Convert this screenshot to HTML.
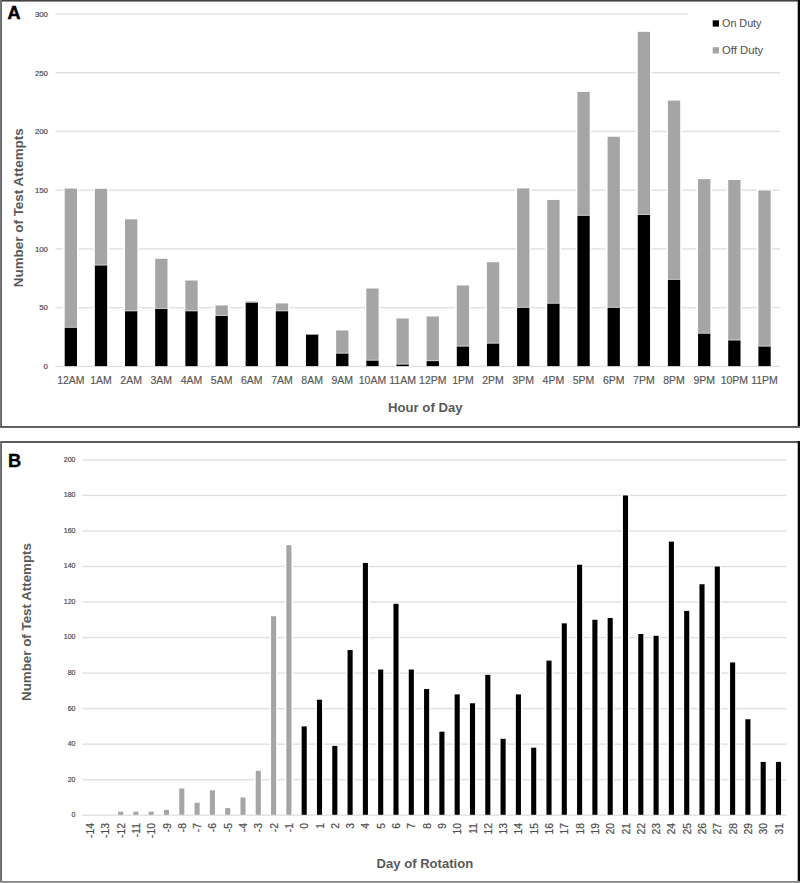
<!DOCTYPE html>
<html><head><meta charset="utf-8"><style>
html,body{margin:0;padding:0;background:#fff;overflow:hidden;}
svg{display:block;}
text{font-family:"Liberation Sans", sans-serif;}
</style></head><body>
<svg width="800" height="883" viewBox="0 0 800 883">
<rect x="0" y="0" width="800" height="883" fill="#fff"/>
<rect x="55.40" y="365.70" width="724.60" height="1.4" fill="#e0e0e0"/>
<text x="47.90" y="369.20" font-size="7.8" text-anchor="end" font-weight="normal" fill="#4d4d4d" stroke="#4d4d4d" stroke-width="0.2">0</text>
<rect x="55.40" y="306.97" width="724.60" height="1.4" fill="#e0e0e0"/>
<text x="47.90" y="310.47" font-size="7.8" text-anchor="end" font-weight="normal" fill="#4d4d4d" stroke="#4d4d4d" stroke-width="0.2">50</text>
<rect x="55.40" y="248.23" width="724.60" height="1.4" fill="#e0e0e0"/>
<text x="47.90" y="251.73" font-size="7.8" text-anchor="end" font-weight="normal" fill="#4d4d4d" stroke="#4d4d4d" stroke-width="0.2">100</text>
<rect x="55.40" y="189.50" width="724.60" height="1.4" fill="#e0e0e0"/>
<text x="47.90" y="193.00" font-size="7.8" text-anchor="end" font-weight="normal" fill="#4d4d4d" stroke="#4d4d4d" stroke-width="0.2">150</text>
<rect x="55.40" y="130.77" width="724.60" height="1.4" fill="#e0e0e0"/>
<text x="47.90" y="134.27" font-size="7.8" text-anchor="end" font-weight="normal" fill="#4d4d4d" stroke="#4d4d4d" stroke-width="0.2">200</text>
<rect x="55.40" y="72.03" width="724.60" height="1.4" fill="#e0e0e0"/>
<text x="47.90" y="75.53" font-size="7.8" text-anchor="end" font-weight="normal" fill="#4d4d4d" stroke="#4d4d4d" stroke-width="0.2">250</text>
<rect x="55.40" y="13.30" width="724.60" height="1.4" fill="#e0e0e0"/>
<text x="47.90" y="16.80" font-size="7.8" text-anchor="end" font-weight="normal" fill="#4d4d4d" stroke="#4d4d4d" stroke-width="0.2">300</text>
<rect x="688" y="2" width="109" height="62" fill="#fff"/>
<rect x="63.20" y="187.36" width="15.30" height="178.34" fill="#fff"/>
<rect x="64.70" y="188.56" width="12.30" height="139.08" fill="#a5a5a5"/>
<rect x="64.70" y="327.64" width="12.30" height="38.46" fill="#000"/>
<rect x="64.70" y="326.84" width="12.30" height="0.8" fill="#fff" fill-opacity="0.55"/>
<text x="70.85" y="383.80" font-size="10.5" text-anchor="middle" font-weight="normal" fill="#555" stroke="#555" stroke-width="0.15">12AM</text>
<rect x="93.36" y="187.59" width="15.30" height="178.11" fill="#fff"/>
<rect x="94.86" y="188.79" width="12.30" height="76.59" fill="#a5a5a5"/>
<rect x="94.86" y="265.38" width="12.30" height="100.72" fill="#000"/>
<rect x="94.86" y="264.58" width="12.30" height="0.8" fill="#fff" fill-opacity="0.55"/>
<text x="101.01" y="383.80" font-size="10.5" text-anchor="middle" font-weight="normal" fill="#555" stroke="#555" stroke-width="0.15">1AM</text>
<rect x="123.52" y="218.13" width="15.30" height="147.57" fill="#fff"/>
<rect x="125.02" y="219.33" width="12.30" height="91.86" fill="#a5a5a5"/>
<rect x="125.02" y="311.19" width="12.30" height="54.91" fill="#000"/>
<rect x="125.02" y="310.39" width="12.30" height="0.8" fill="#fff" fill-opacity="0.55"/>
<text x="131.17" y="383.80" font-size="10.5" text-anchor="middle" font-weight="normal" fill="#555" stroke="#555" stroke-width="0.15">2AM</text>
<rect x="153.68" y="257.60" width="15.30" height="108.10" fill="#fff"/>
<rect x="155.18" y="258.80" width="12.30" height="50.04" fill="#a5a5a5"/>
<rect x="155.18" y="308.84" width="12.30" height="57.26" fill="#000"/>
<rect x="155.18" y="308.04" width="12.30" height="0.8" fill="#fff" fill-opacity="0.55"/>
<text x="161.33" y="383.80" font-size="10.5" text-anchor="middle" font-weight="normal" fill="#555" stroke="#555" stroke-width="0.15">3AM</text>
<rect x="183.84" y="279.33" width="15.30" height="86.37" fill="#fff"/>
<rect x="185.34" y="280.53" width="12.30" height="30.66" fill="#a5a5a5"/>
<rect x="185.34" y="311.19" width="12.30" height="54.91" fill="#000"/>
<rect x="185.34" y="310.39" width="12.30" height="0.8" fill="#fff" fill-opacity="0.55"/>
<text x="191.49" y="383.80" font-size="10.5" text-anchor="middle" font-weight="normal" fill="#555" stroke="#555" stroke-width="0.15">4AM</text>
<rect x="214.00" y="304.23" width="15.30" height="61.47" fill="#fff"/>
<rect x="215.50" y="305.43" width="12.30" height="10.45" fill="#a5a5a5"/>
<rect x="215.50" y="315.89" width="12.30" height="50.21" fill="#000"/>
<rect x="215.50" y="315.09" width="12.30" height="0.8" fill="#fff" fill-opacity="0.55"/>
<text x="221.65" y="383.80" font-size="10.5" text-anchor="middle" font-weight="normal" fill="#555" stroke="#555" stroke-width="0.15">5AM</text>
<rect x="244.16" y="300.24" width="15.30" height="65.46" fill="#fff"/>
<rect x="245.66" y="301.44" width="12.30" height="1.53" fill="#a5a5a5"/>
<rect x="245.66" y="302.97" width="12.30" height="63.13" fill="#000"/>
<text x="251.81" y="383.80" font-size="10.5" text-anchor="middle" font-weight="normal" fill="#555" stroke="#555" stroke-width="0.15">6AM</text>
<rect x="274.32" y="302.24" width="15.30" height="63.46" fill="#fff"/>
<rect x="275.82" y="303.44" width="12.30" height="7.75" fill="#a5a5a5"/>
<rect x="275.82" y="311.19" width="12.30" height="54.91" fill="#000"/>
<rect x="275.82" y="310.39" width="12.30" height="0.8" fill="#fff" fill-opacity="0.55"/>
<text x="281.97" y="383.80" font-size="10.5" text-anchor="middle" font-weight="normal" fill="#555" stroke="#555" stroke-width="0.15">7AM</text>
<rect x="304.48" y="333.25" width="15.30" height="32.45" fill="#fff"/>
<rect x="305.98" y="334.45" width="12.30" height="0.23" fill="#a5a5a5"/>
<rect x="305.98" y="334.68" width="12.30" height="31.42" fill="#000"/>
<text x="312.13" y="383.80" font-size="10.5" text-anchor="middle" font-weight="normal" fill="#555" stroke="#555" stroke-width="0.15">8AM</text>
<rect x="334.64" y="329.26" width="15.30" height="36.44" fill="#fff"/>
<rect x="336.14" y="330.46" width="12.30" height="23.02" fill="#a5a5a5"/>
<rect x="336.14" y="353.48" width="12.30" height="12.62" fill="#000"/>
<rect x="336.14" y="352.68" width="12.30" height="0.8" fill="#fff" fill-opacity="0.55"/>
<text x="342.29" y="383.80" font-size="10.5" text-anchor="middle" font-weight="normal" fill="#555" stroke="#555" stroke-width="0.15">9AM</text>
<rect x="364.80" y="287.32" width="15.30" height="78.38" fill="#fff"/>
<rect x="366.30" y="288.52" width="12.30" height="72.01" fill="#a5a5a5"/>
<rect x="366.30" y="360.53" width="12.30" height="5.57" fill="#000"/>
<rect x="366.30" y="359.73" width="12.30" height="0.8" fill="#fff" fill-opacity="0.55"/>
<text x="372.45" y="383.80" font-size="10.5" text-anchor="middle" font-weight="normal" fill="#555" stroke="#555" stroke-width="0.15">10AM</text>
<rect x="394.96" y="317.27" width="15.30" height="48.43" fill="#fff"/>
<rect x="396.46" y="318.47" width="12.30" height="45.93" fill="#a5a5a5"/>
<rect x="396.46" y="364.40" width="12.30" height="1.70" fill="#000"/>
<rect x="396.46" y="363.60" width="12.30" height="0.8" fill="#fff" fill-opacity="0.55"/>
<text x="402.61" y="383.80" font-size="10.5" text-anchor="middle" font-weight="normal" fill="#555" stroke="#555" stroke-width="0.15">11AM</text>
<rect x="425.12" y="315.28" width="15.30" height="50.42" fill="#fff"/>
<rect x="426.62" y="316.48" width="12.30" height="44.64" fill="#a5a5a5"/>
<rect x="426.62" y="361.11" width="12.30" height="4.99" fill="#000"/>
<rect x="426.62" y="360.31" width="12.30" height="0.8" fill="#fff" fill-opacity="0.55"/>
<text x="432.77" y="383.80" font-size="10.5" text-anchor="middle" font-weight="normal" fill="#555" stroke="#555" stroke-width="0.15">12PM</text>
<rect x="455.28" y="284.27" width="15.30" height="81.43" fill="#fff"/>
<rect x="456.78" y="285.47" width="12.30" height="60.97" fill="#a5a5a5"/>
<rect x="456.78" y="346.43" width="12.30" height="19.67" fill="#000"/>
<rect x="456.78" y="345.63" width="12.30" height="0.8" fill="#fff" fill-opacity="0.55"/>
<text x="462.93" y="383.80" font-size="10.5" text-anchor="middle" font-weight="normal" fill="#555" stroke="#555" stroke-width="0.15">1PM</text>
<rect x="485.44" y="261.01" width="15.30" height="104.69" fill="#fff"/>
<rect x="486.94" y="262.21" width="12.30" height="81.29" fill="#a5a5a5"/>
<rect x="486.94" y="343.49" width="12.30" height="22.61" fill="#000"/>
<rect x="486.94" y="342.69" width="12.30" height="0.8" fill="#fff" fill-opacity="0.55"/>
<text x="493.09" y="383.80" font-size="10.5" text-anchor="middle" font-weight="normal" fill="#555" stroke="#555" stroke-width="0.15">2PM</text>
<rect x="515.60" y="187.24" width="15.30" height="178.46" fill="#fff"/>
<rect x="517.10" y="188.44" width="12.30" height="119.23" fill="#a5a5a5"/>
<rect x="517.10" y="307.67" width="12.30" height="58.43" fill="#000"/>
<rect x="517.10" y="306.87" width="12.30" height="0.8" fill="#fff" fill-opacity="0.55"/>
<text x="523.25" y="383.80" font-size="10.5" text-anchor="middle" font-weight="normal" fill="#555" stroke="#555" stroke-width="0.15">3PM</text>
<rect x="545.76" y="198.75" width="15.30" height="166.95" fill="#fff"/>
<rect x="547.26" y="199.95" width="12.30" height="103.61" fill="#a5a5a5"/>
<rect x="547.26" y="303.56" width="12.30" height="62.54" fill="#000"/>
<rect x="547.26" y="302.76" width="12.30" height="0.8" fill="#fff" fill-opacity="0.55"/>
<text x="553.41" y="383.80" font-size="10.5" text-anchor="middle" font-weight="normal" fill="#555" stroke="#555" stroke-width="0.15">4PM</text>
<rect x="575.92" y="90.68" width="15.30" height="275.02" fill="#fff"/>
<rect x="577.42" y="91.88" width="12.30" height="123.81" fill="#a5a5a5"/>
<rect x="577.42" y="215.69" width="12.30" height="150.41" fill="#000"/>
<rect x="577.42" y="214.89" width="12.30" height="0.8" fill="#fff" fill-opacity="0.55"/>
<text x="583.57" y="383.80" font-size="10.5" text-anchor="middle" font-weight="normal" fill="#555" stroke="#555" stroke-width="0.15">5PM</text>
<rect x="606.08" y="135.55" width="15.30" height="230.15" fill="#fff"/>
<rect x="607.58" y="136.75" width="12.30" height="170.91" fill="#a5a5a5"/>
<rect x="607.58" y="307.67" width="12.30" height="58.43" fill="#000"/>
<rect x="607.58" y="306.87" width="12.30" height="0.8" fill="#fff" fill-opacity="0.55"/>
<text x="613.73" y="383.80" font-size="10.5" text-anchor="middle" font-weight="normal" fill="#555" stroke="#555" stroke-width="0.15">6PM</text>
<rect x="636.24" y="30.65" width="15.30" height="335.05" fill="#fff"/>
<rect x="637.74" y="31.85" width="12.30" height="183.01" fill="#a5a5a5"/>
<rect x="637.74" y="214.87" width="12.30" height="151.23" fill="#000"/>
<rect x="637.74" y="214.07" width="12.30" height="0.8" fill="#fff" fill-opacity="0.55"/>
<text x="643.89" y="383.80" font-size="10.5" text-anchor="middle" font-weight="normal" fill="#555" stroke="#555" stroke-width="0.15">7PM</text>
<rect x="666.40" y="99.37" width="15.30" height="266.33" fill="#fff"/>
<rect x="667.90" y="100.57" width="12.30" height="179.14" fill="#a5a5a5"/>
<rect x="667.90" y="279.71" width="12.30" height="86.39" fill="#000"/>
<rect x="667.90" y="278.91" width="12.30" height="0.8" fill="#fff" fill-opacity="0.55"/>
<text x="674.05" y="383.80" font-size="10.5" text-anchor="middle" font-weight="normal" fill="#555" stroke="#555" stroke-width="0.15">8PM</text>
<rect x="696.56" y="177.96" width="15.30" height="187.74" fill="#fff"/>
<rect x="698.06" y="179.16" width="12.30" height="154.35" fill="#a5a5a5"/>
<rect x="698.06" y="333.51" width="12.30" height="32.59" fill="#000"/>
<rect x="698.06" y="332.71" width="12.30" height="0.8" fill="#fff" fill-opacity="0.55"/>
<text x="704.21" y="383.80" font-size="10.5" text-anchor="middle" font-weight="normal" fill="#555" stroke="#555" stroke-width="0.15">9PM</text>
<rect x="726.72" y="178.78" width="15.30" height="186.92" fill="#fff"/>
<rect x="728.22" y="179.98" width="12.30" height="160.34" fill="#a5a5a5"/>
<rect x="728.22" y="340.32" width="12.30" height="25.78" fill="#000"/>
<rect x="728.22" y="339.52" width="12.30" height="0.8" fill="#fff" fill-opacity="0.55"/>
<text x="734.37" y="383.80" font-size="10.5" text-anchor="middle" font-weight="normal" fill="#555" stroke="#555" stroke-width="0.15">10PM</text>
<rect x="756.88" y="189.23" width="15.30" height="176.47" fill="#fff"/>
<rect x="758.38" y="190.43" width="12.30" height="156.00" fill="#a5a5a5"/>
<rect x="758.38" y="346.43" width="12.30" height="19.67" fill="#000"/>
<rect x="758.38" y="345.63" width="12.30" height="0.8" fill="#fff" fill-opacity="0.55"/>
<text x="764.53" y="383.80" font-size="10.5" text-anchor="middle" font-weight="normal" fill="#555" stroke="#555" stroke-width="0.15">11PM</text>
<rect x="712.7" y="20.3" width="6.3" height="6.3" fill="#000"/>
<rect x="712.7" y="47.2" width="6.3" height="6.3" fill="#a5a5a5"/>
<text x="722.00" y="26.60" font-size="10.5" text-anchor="start" font-weight="normal" fill="#4d4d4d" textLength="39.50" lengthAdjust="spacingAndGlyphs">On Duty</text>
<text x="722.00" y="53.50" font-size="10.5" text-anchor="start" font-weight="normal" fill="#4d4d4d" textLength="41.20" lengthAdjust="spacingAndGlyphs">Off Duty</text>
<text x="22.70" y="207.75" font-size="13.6" text-anchor="middle" font-weight="bold" fill="#595959" transform="rotate(-90 22.70 207.75)" textLength="159.00" lengthAdjust="spacingAndGlyphs">Number of Test Attempts</text>
<text x="425.30" y="411.90" font-size="12.5" text-anchor="middle" font-weight="bold" fill="#595959" textLength="74.40" lengthAdjust="spacingAndGlyphs">Hour of Day</text>
<text x="7.40" y="19.30" font-size="19.0" text-anchor="start" font-weight="bold" fill="#000" transform="translate(7.40 0) scale(0.95 1) translate(-7.40 0)" stroke="#000" stroke-width="0.5">A</text>
<rect x="82.20" y="814.50" width="704.20" height="1.4" fill="#e0e0e0"/>
<text x="75.50" y="817.10" font-size="7.0" text-anchor="end" font-weight="normal" fill="#4d4d4d" stroke="#4d4d4d" stroke-width="0.2">0</text>
<rect x="82.20" y="778.97" width="704.20" height="1.4" fill="#e0e0e0"/>
<text x="75.50" y="781.57" font-size="7.0" text-anchor="end" font-weight="normal" fill="#4d4d4d" stroke="#4d4d4d" stroke-width="0.2">20</text>
<rect x="82.20" y="743.44" width="704.20" height="1.4" fill="#e0e0e0"/>
<text x="75.50" y="746.04" font-size="7.0" text-anchor="end" font-weight="normal" fill="#4d4d4d" stroke="#4d4d4d" stroke-width="0.2">40</text>
<rect x="82.20" y="707.91" width="704.20" height="1.4" fill="#e0e0e0"/>
<text x="75.50" y="710.51" font-size="7.0" text-anchor="end" font-weight="normal" fill="#4d4d4d" stroke="#4d4d4d" stroke-width="0.2">60</text>
<rect x="82.20" y="672.38" width="704.20" height="1.4" fill="#e0e0e0"/>
<text x="75.50" y="674.98" font-size="7.0" text-anchor="end" font-weight="normal" fill="#4d4d4d" stroke="#4d4d4d" stroke-width="0.2">80</text>
<rect x="82.20" y="636.85" width="704.20" height="1.4" fill="#e0e0e0"/>
<text x="75.50" y="639.45" font-size="7.0" text-anchor="end" font-weight="normal" fill="#4d4d4d" stroke="#4d4d4d" stroke-width="0.2">100</text>
<rect x="82.20" y="601.32" width="704.20" height="1.4" fill="#e0e0e0"/>
<text x="75.50" y="603.92" font-size="7.0" text-anchor="end" font-weight="normal" fill="#4d4d4d" stroke="#4d4d4d" stroke-width="0.2">120</text>
<rect x="82.20" y="565.79" width="704.20" height="1.4" fill="#e0e0e0"/>
<text x="75.50" y="568.39" font-size="7.0" text-anchor="end" font-weight="normal" fill="#4d4d4d" stroke="#4d4d4d" stroke-width="0.2">140</text>
<rect x="82.20" y="530.26" width="704.20" height="1.4" fill="#e0e0e0"/>
<text x="75.50" y="532.86" font-size="7.0" text-anchor="end" font-weight="normal" fill="#4d4d4d" stroke="#4d4d4d" stroke-width="0.2">160</text>
<rect x="82.20" y="494.73" width="704.20" height="1.4" fill="#e0e0e0"/>
<text x="75.50" y="497.33" font-size="7.0" text-anchor="end" font-weight="normal" fill="#4d4d4d" stroke="#4d4d4d" stroke-width="0.2">180</text>
<rect x="82.20" y="459.20" width="704.20" height="1.4" fill="#e0e0e0"/>
<text x="75.50" y="461.80" font-size="7.0" text-anchor="end" font-weight="normal" fill="#4d4d4d" stroke="#4d4d4d" stroke-width="0.2">200</text>
<text x="94.00" y="823.00" font-size="10.3" text-anchor="end" font-weight="normal" fill="#4d4d4d" transform="rotate(-90 94.00 823.00)" stroke="#4d4d4d" stroke-width="0.2">-14</text>
<text x="109.30" y="823.00" font-size="10.3" text-anchor="end" font-weight="normal" fill="#4d4d4d" transform="rotate(-90 109.30 823.00)" stroke="#4d4d4d" stroke-width="0.2">-13</text>
<rect x="116.75" y="810.65" width="7.70" height="3.95" fill="#fff"/>
<rect x="118.05" y="811.65" width="5.10" height="3.15" fill="#a5a5a5"/>
<text x="124.60" y="823.00" font-size="10.3" text-anchor="end" font-weight="normal" fill="#4d4d4d" transform="rotate(-90 124.60 823.00)" stroke="#4d4d4d" stroke-width="0.2">-12</text>
<rect x="132.05" y="810.65" width="7.70" height="3.95" fill="#fff"/>
<rect x="133.35" y="811.65" width="5.10" height="3.15" fill="#a5a5a5"/>
<text x="139.90" y="823.00" font-size="10.3" text-anchor="end" font-weight="normal" fill="#4d4d4d" transform="rotate(-90 139.90 823.00)" stroke="#4d4d4d" stroke-width="0.2">-11</text>
<rect x="147.35" y="810.65" width="7.70" height="3.95" fill="#fff"/>
<rect x="148.65" y="811.65" width="5.10" height="3.15" fill="#a5a5a5"/>
<text x="155.20" y="823.00" font-size="10.3" text-anchor="end" font-weight="normal" fill="#4d4d4d" transform="rotate(-90 155.20 823.00)" stroke="#4d4d4d" stroke-width="0.2">-10</text>
<rect x="162.65" y="808.87" width="7.70" height="5.73" fill="#fff"/>
<rect x="163.95" y="809.87" width="5.10" height="4.93" fill="#a5a5a5"/>
<text x="170.50" y="823.00" font-size="10.3" text-anchor="end" font-weight="normal" fill="#4d4d4d" transform="rotate(-90 170.50 823.00)" stroke="#4d4d4d" stroke-width="0.2">-9</text>
<rect x="177.95" y="787.55" width="7.70" height="27.05" fill="#fff"/>
<rect x="179.25" y="788.55" width="5.10" height="26.25" fill="#a5a5a5"/>
<text x="185.80" y="823.00" font-size="10.3" text-anchor="end" font-weight="normal" fill="#4d4d4d" transform="rotate(-90 185.80 823.00)" stroke="#4d4d4d" stroke-width="0.2">-8</text>
<rect x="193.25" y="801.76" width="7.70" height="12.84" fill="#fff"/>
<rect x="194.55" y="802.76" width="5.10" height="12.04" fill="#a5a5a5"/>
<text x="201.10" y="823.00" font-size="10.3" text-anchor="end" font-weight="normal" fill="#4d4d4d" transform="rotate(-90 201.10 823.00)" stroke="#4d4d4d" stroke-width="0.2">-7</text>
<rect x="208.55" y="789.33" width="7.70" height="25.27" fill="#fff"/>
<rect x="209.85" y="790.33" width="5.10" height="24.47" fill="#a5a5a5"/>
<text x="216.40" y="823.00" font-size="10.3" text-anchor="end" font-weight="normal" fill="#4d4d4d" transform="rotate(-90 216.40 823.00)" stroke="#4d4d4d" stroke-width="0.2">-6</text>
<rect x="223.85" y="807.09" width="7.70" height="7.51" fill="#fff"/>
<rect x="225.15" y="808.09" width="5.10" height="6.71" fill="#a5a5a5"/>
<text x="231.70" y="823.00" font-size="10.3" text-anchor="end" font-weight="normal" fill="#4d4d4d" transform="rotate(-90 231.70 823.00)" stroke="#4d4d4d" stroke-width="0.2">-5</text>
<rect x="239.15" y="796.44" width="7.70" height="18.16" fill="#fff"/>
<rect x="240.45" y="797.44" width="5.10" height="17.37" fill="#a5a5a5"/>
<text x="247.00" y="823.00" font-size="10.3" text-anchor="end" font-weight="normal" fill="#4d4d4d" transform="rotate(-90 247.00 823.00)" stroke="#4d4d4d" stroke-width="0.2">-4</text>
<rect x="254.45" y="769.79" width="7.70" height="44.81" fill="#fff"/>
<rect x="255.75" y="770.79" width="5.10" height="44.01" fill="#a5a5a5"/>
<text x="262.30" y="823.00" font-size="10.3" text-anchor="end" font-weight="normal" fill="#4d4d4d" transform="rotate(-90 262.30 823.00)" stroke="#4d4d4d" stroke-width="0.2">-3</text>
<rect x="269.75" y="615.23" width="7.70" height="199.37" fill="#fff"/>
<rect x="271.05" y="616.23" width="5.10" height="198.57" fill="#a5a5a5"/>
<text x="277.60" y="823.00" font-size="10.3" text-anchor="end" font-weight="normal" fill="#4d4d4d" transform="rotate(-90 277.60 823.00)" stroke="#4d4d4d" stroke-width="0.2">-2</text>
<rect x="285.05" y="544.17" width="7.70" height="270.43" fill="#fff"/>
<rect x="286.35" y="545.17" width="5.10" height="269.63" fill="#a5a5a5"/>
<text x="292.90" y="823.00" font-size="10.3" text-anchor="end" font-weight="normal" fill="#4d4d4d" transform="rotate(-90 292.90 823.00)" stroke="#4d4d4d" stroke-width="0.2">-1</text>
<rect x="300.35" y="725.38" width="7.70" height="89.23" fill="#fff"/>
<rect x="301.65" y="726.38" width="5.10" height="88.43" fill="#000"/>
<text x="308.20" y="823.00" font-size="10.3" text-anchor="end" font-weight="normal" fill="#4d4d4d" transform="rotate(-90 308.20 823.00)" stroke="#4d4d4d" stroke-width="0.2">0</text>
<rect x="315.65" y="698.73" width="7.70" height="115.87" fill="#fff"/>
<rect x="316.95" y="699.73" width="5.10" height="115.07" fill="#000"/>
<text x="323.50" y="823.00" font-size="10.3" text-anchor="end" font-weight="normal" fill="#4d4d4d" transform="rotate(-90 323.50 823.00)" stroke="#4d4d4d" stroke-width="0.2">1</text>
<rect x="330.95" y="744.92" width="7.70" height="69.68" fill="#fff"/>
<rect x="332.25" y="745.92" width="5.10" height="68.88" fill="#000"/>
<text x="338.80" y="823.00" font-size="10.3" text-anchor="end" font-weight="normal" fill="#4d4d4d" transform="rotate(-90 338.80 823.00)" stroke="#4d4d4d" stroke-width="0.2">2</text>
<rect x="346.25" y="648.99" width="7.70" height="165.61" fill="#fff"/>
<rect x="347.55" y="649.99" width="5.10" height="164.81" fill="#000"/>
<text x="354.10" y="823.00" font-size="10.3" text-anchor="end" font-weight="normal" fill="#4d4d4d" transform="rotate(-90 354.10 823.00)" stroke="#4d4d4d" stroke-width="0.2">3</text>
<rect x="361.55" y="561.94" width="7.70" height="252.66" fill="#fff"/>
<rect x="362.85" y="562.94" width="5.10" height="251.86" fill="#000"/>
<text x="369.40" y="823.00" font-size="10.3" text-anchor="end" font-weight="normal" fill="#4d4d4d" transform="rotate(-90 369.40 823.00)" stroke="#4d4d4d" stroke-width="0.2">4</text>
<rect x="376.85" y="668.53" width="7.70" height="146.07" fill="#fff"/>
<rect x="378.15" y="669.53" width="5.10" height="145.27" fill="#000"/>
<text x="384.70" y="823.00" font-size="10.3" text-anchor="end" font-weight="normal" fill="#4d4d4d" transform="rotate(-90 384.70 823.00)" stroke="#4d4d4d" stroke-width="0.2">5</text>
<rect x="392.15" y="602.80" width="7.70" height="211.80" fill="#fff"/>
<rect x="393.45" y="603.80" width="5.10" height="211.00" fill="#000"/>
<text x="400.00" y="823.00" font-size="10.3" text-anchor="end" font-weight="normal" fill="#4d4d4d" transform="rotate(-90 400.00 823.00)" stroke="#4d4d4d" stroke-width="0.2">6</text>
<rect x="407.45" y="668.53" width="7.70" height="146.07" fill="#fff"/>
<rect x="408.75" y="669.53" width="5.10" height="145.27" fill="#000"/>
<text x="415.30" y="823.00" font-size="10.3" text-anchor="end" font-weight="normal" fill="#4d4d4d" transform="rotate(-90 415.30 823.00)" stroke="#4d4d4d" stroke-width="0.2">7</text>
<rect x="422.75" y="688.07" width="7.70" height="126.53" fill="#fff"/>
<rect x="424.05" y="689.07" width="5.10" height="125.73" fill="#000"/>
<text x="430.60" y="823.00" font-size="10.3" text-anchor="end" font-weight="normal" fill="#4d4d4d" transform="rotate(-90 430.60 823.00)" stroke="#4d4d4d" stroke-width="0.2">8</text>
<rect x="438.05" y="730.70" width="7.70" height="83.90" fill="#fff"/>
<rect x="439.35" y="731.70" width="5.10" height="83.10" fill="#000"/>
<text x="445.90" y="823.00" font-size="10.3" text-anchor="end" font-weight="normal" fill="#4d4d4d" transform="rotate(-90 445.90 823.00)" stroke="#4d4d4d" stroke-width="0.2">9</text>
<rect x="453.35" y="693.40" width="7.70" height="121.20" fill="#fff"/>
<rect x="454.65" y="694.40" width="5.10" height="120.40" fill="#000"/>
<text x="461.20" y="823.00" font-size="10.3" text-anchor="end" font-weight="normal" fill="#4d4d4d" transform="rotate(-90 461.20 823.00)" stroke="#4d4d4d" stroke-width="0.2">10</text>
<rect x="468.65" y="702.28" width="7.70" height="112.32" fill="#fff"/>
<rect x="469.95" y="703.28" width="5.10" height="111.52" fill="#000"/>
<text x="476.50" y="823.00" font-size="10.3" text-anchor="end" font-weight="normal" fill="#4d4d4d" transform="rotate(-90 476.50 823.00)" stroke="#4d4d4d" stroke-width="0.2">11</text>
<rect x="483.95" y="673.86" width="7.70" height="140.74" fill="#fff"/>
<rect x="485.25" y="674.86" width="5.10" height="139.94" fill="#000"/>
<text x="491.80" y="823.00" font-size="10.3" text-anchor="end" font-weight="normal" fill="#4d4d4d" transform="rotate(-90 491.80 823.00)" stroke="#4d4d4d" stroke-width="0.2">12</text>
<rect x="499.25" y="737.81" width="7.70" height="76.79" fill="#fff"/>
<rect x="500.55" y="738.81" width="5.10" height="75.99" fill="#000"/>
<text x="507.10" y="823.00" font-size="10.3" text-anchor="end" font-weight="normal" fill="#4d4d4d" transform="rotate(-90 507.10 823.00)" stroke="#4d4d4d" stroke-width="0.2">13</text>
<rect x="514.55" y="693.40" width="7.70" height="121.20" fill="#fff"/>
<rect x="515.85" y="694.40" width="5.10" height="120.40" fill="#000"/>
<text x="522.40" y="823.00" font-size="10.3" text-anchor="end" font-weight="normal" fill="#4d4d4d" transform="rotate(-90 522.40 823.00)" stroke="#4d4d4d" stroke-width="0.2">14</text>
<rect x="529.85" y="746.69" width="7.70" height="67.91" fill="#fff"/>
<rect x="531.15" y="747.69" width="5.10" height="67.11" fill="#000"/>
<text x="537.70" y="823.00" font-size="10.3" text-anchor="end" font-weight="normal" fill="#4d4d4d" transform="rotate(-90 537.70 823.00)" stroke="#4d4d4d" stroke-width="0.2">15</text>
<rect x="545.15" y="659.64" width="7.70" height="154.96" fill="#fff"/>
<rect x="546.45" y="660.64" width="5.10" height="154.16" fill="#000"/>
<text x="553.00" y="823.00" font-size="10.3" text-anchor="end" font-weight="normal" fill="#4d4d4d" transform="rotate(-90 553.00 823.00)" stroke="#4d4d4d" stroke-width="0.2">16</text>
<rect x="560.45" y="622.34" width="7.70" height="192.26" fill="#fff"/>
<rect x="561.75" y="623.34" width="5.10" height="191.46" fill="#000"/>
<text x="568.30" y="823.00" font-size="10.3" text-anchor="end" font-weight="normal" fill="#4d4d4d" transform="rotate(-90 568.30 823.00)" stroke="#4d4d4d" stroke-width="0.2">17</text>
<rect x="575.75" y="563.71" width="7.70" height="250.89" fill="#fff"/>
<rect x="577.05" y="564.71" width="5.10" height="250.09" fill="#000"/>
<text x="583.60" y="823.00" font-size="10.3" text-anchor="end" font-weight="normal" fill="#4d4d4d" transform="rotate(-90 583.60 823.00)" stroke="#4d4d4d" stroke-width="0.2">18</text>
<rect x="591.05" y="618.78" width="7.70" height="195.82" fill="#fff"/>
<rect x="592.35" y="619.78" width="5.10" height="195.02" fill="#000"/>
<text x="598.90" y="823.00" font-size="10.3" text-anchor="end" font-weight="normal" fill="#4d4d4d" transform="rotate(-90 598.90 823.00)" stroke="#4d4d4d" stroke-width="0.2">19</text>
<rect x="606.35" y="617.01" width="7.70" height="197.59" fill="#fff"/>
<rect x="607.65" y="618.01" width="5.10" height="196.79" fill="#000"/>
<text x="614.20" y="823.00" font-size="10.3" text-anchor="end" font-weight="normal" fill="#4d4d4d" transform="rotate(-90 614.20 823.00)" stroke="#4d4d4d" stroke-width="0.2">20</text>
<rect x="621.65" y="494.43" width="7.70" height="320.17" fill="#fff"/>
<rect x="622.95" y="495.43" width="5.10" height="319.37" fill="#000"/>
<text x="629.50" y="823.00" font-size="10.3" text-anchor="end" font-weight="normal" fill="#4d4d4d" transform="rotate(-90 629.50 823.00)" stroke="#4d4d4d" stroke-width="0.2">21</text>
<rect x="636.95" y="633.00" width="7.70" height="181.60" fill="#fff"/>
<rect x="638.25" y="634.00" width="5.10" height="180.80" fill="#000"/>
<text x="644.80" y="823.00" font-size="10.3" text-anchor="end" font-weight="normal" fill="#4d4d4d" transform="rotate(-90 644.80 823.00)" stroke="#4d4d4d" stroke-width="0.2">22</text>
<rect x="652.25" y="634.77" width="7.70" height="179.83" fill="#fff"/>
<rect x="653.55" y="635.77" width="5.10" height="179.03" fill="#000"/>
<text x="660.10" y="823.00" font-size="10.3" text-anchor="end" font-weight="normal" fill="#4d4d4d" transform="rotate(-90 660.10 823.00)" stroke="#4d4d4d" stroke-width="0.2">23</text>
<rect x="667.55" y="540.62" width="7.70" height="273.98" fill="#fff"/>
<rect x="668.85" y="541.62" width="5.10" height="273.18" fill="#000"/>
<text x="675.40" y="823.00" font-size="10.3" text-anchor="end" font-weight="normal" fill="#4d4d4d" transform="rotate(-90 675.40 823.00)" stroke="#4d4d4d" stroke-width="0.2">24</text>
<rect x="682.85" y="609.90" width="7.70" height="204.70" fill="#fff"/>
<rect x="684.15" y="610.90" width="5.10" height="203.90" fill="#000"/>
<text x="690.70" y="823.00" font-size="10.3" text-anchor="end" font-weight="normal" fill="#4d4d4d" transform="rotate(-90 690.70 823.00)" stroke="#4d4d4d" stroke-width="0.2">25</text>
<rect x="698.15" y="583.25" width="7.70" height="231.35" fill="#fff"/>
<rect x="699.45" y="584.25" width="5.10" height="230.55" fill="#000"/>
<text x="706.00" y="823.00" font-size="10.3" text-anchor="end" font-weight="normal" fill="#4d4d4d" transform="rotate(-90 706.00 823.00)" stroke="#4d4d4d" stroke-width="0.2">26</text>
<rect x="713.45" y="565.49" width="7.70" height="249.11" fill="#fff"/>
<rect x="714.75" y="566.49" width="5.10" height="248.31" fill="#000"/>
<text x="721.30" y="823.00" font-size="10.3" text-anchor="end" font-weight="normal" fill="#4d4d4d" transform="rotate(-90 721.30 823.00)" stroke="#4d4d4d" stroke-width="0.2">27</text>
<rect x="728.75" y="661.42" width="7.70" height="153.18" fill="#fff"/>
<rect x="730.05" y="662.42" width="5.10" height="152.38" fill="#000"/>
<text x="736.60" y="823.00" font-size="10.3" text-anchor="end" font-weight="normal" fill="#4d4d4d" transform="rotate(-90 736.60 823.00)" stroke="#4d4d4d" stroke-width="0.2">28</text>
<rect x="744.05" y="718.27" width="7.70" height="96.33" fill="#fff"/>
<rect x="745.35" y="719.27" width="5.10" height="95.53" fill="#000"/>
<text x="751.90" y="823.00" font-size="10.3" text-anchor="end" font-weight="normal" fill="#4d4d4d" transform="rotate(-90 751.90 823.00)" stroke="#4d4d4d" stroke-width="0.2">29</text>
<rect x="759.35" y="760.90" width="7.70" height="53.70" fill="#fff"/>
<rect x="760.65" y="761.90" width="5.10" height="52.90" fill="#000"/>
<text x="767.20" y="823.00" font-size="10.3" text-anchor="end" font-weight="normal" fill="#4d4d4d" transform="rotate(-90 767.20 823.00)" stroke="#4d4d4d" stroke-width="0.2">30</text>
<rect x="774.65" y="760.90" width="7.70" height="53.70" fill="#fff"/>
<rect x="775.95" y="761.90" width="5.10" height="52.90" fill="#000"/>
<text x="782.50" y="823.00" font-size="10.3" text-anchor="end" font-weight="normal" fill="#4d4d4d" transform="rotate(-90 782.50 823.00)" stroke="#4d4d4d" stroke-width="0.2">31</text>
<text x="30.50" y="622.00" font-size="13.6" text-anchor="middle" font-weight="bold" fill="#595959" transform="rotate(-90 30.50 622.00)" textLength="158.00" lengthAdjust="spacingAndGlyphs">Number of Test Attempts</text>
<text x="424.85" y="867.80" font-size="12.5" text-anchor="middle" font-weight="bold" fill="#595959" textLength="96.70" lengthAdjust="spacingAndGlyphs">Day of Rotation</text>
<text x="8.00" y="466.50" font-size="18.3" text-anchor="start" font-weight="bold" fill="#000" stroke="#000" stroke-width="0.3">B</text>

<rect x="0" y="0" width="800" height="1.6" fill="#444"/>
<rect x="0" y="0" width="1" height="428" fill="#777"/>
<rect x="1" y="0" width="1" height="428" fill="#666"/>
<rect x="797.7" y="0" width="2.3" height="428" fill="#080808"/>
<rect x="0" y="426" width="800" height="1" fill="#555"/>
<rect x="0" y="427" width="800" height="1" fill="#6a6a6a"/>
<rect x="0" y="441" width="800" height="2" fill="#5a5a5a"/>
<rect x="0" y="441" width="1" height="442" fill="#777"/>
<rect x="1" y="441" width="1" height="442" fill="#666"/>
<rect x="797.7" y="441" width="2.3" height="442" fill="#080808"/>
<rect x="0" y="881" width="800" height="1" fill="#888"/>
<rect x="0" y="882" width="800" height="1" fill="#999"/>

</svg>
</body></html>
